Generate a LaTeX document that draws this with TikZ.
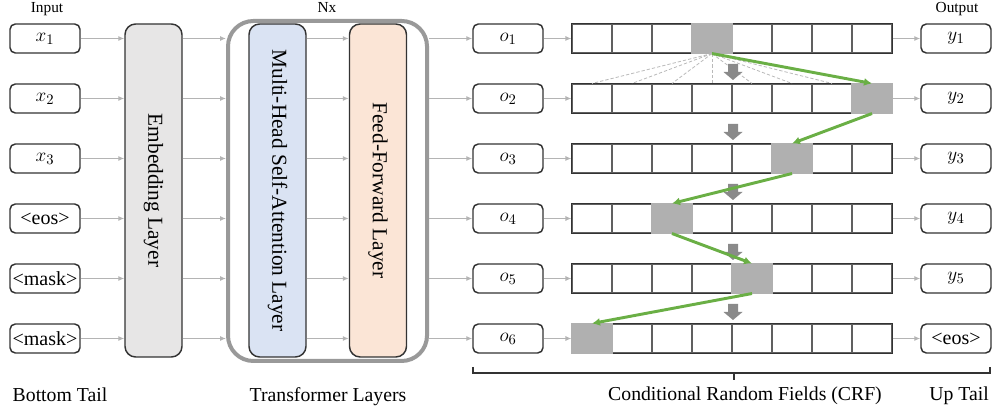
\documentclass[tikz,border=0pt]{standalone}
\usepackage{fontspec}
\setmainfont{Liberation Serif}
\usetikzlibrary{arrows.meta}
\definecolor{embfill}{HTML}{E7E6E6}
\definecolor{attfill}{HTML}{DAE3F3}
\definecolor{fffill}{HTML}{FBE5D6}
\definecolor{conn}{HTML}{B4B4B4}
\definecolor{nxline}{HTML}{999999}
\definecolor{hlcell}{HTML}{B0B0B0}
\definecolor{pathgreen}{HTML}{6AAF45}
\definecolor{blockarr}{HTML}{8A8A8A}
\definecolor{boxline}{HTML}{333333}
\begin{document}
\begin{tikzpicture}[x=0.75pt,y=-0.75pt,
  tok/.style={draw=boxline, line width=1.1pt, rounded corners=4pt, minimum width=52.5pt, minimum height=21.75pt, inner sep=0pt, font=\rmfamily\fontsize{15}{18}\selectfont},
  layerbox/.style={draw=boxline, line width=1.1pt, rounded corners=8pt, minimum width=42.75pt, minimum height=249.75pt, inner sep=0pt},
  layertext/.style={rotate=-90, font=\rmfamily\fontsize{16}{19}\selectfont},
  cell/.style={draw=gray!75!black, line width=0.8pt, minimum width=30pt, minimum height=21.75pt, inner sep=0pt},
  conarrow/.style={draw=conn, line width=1pt, -{Latex[length=4.5pt,width=3.8pt]}},
  greenarrow/.style={draw=pathgreen, line width=2.2pt, -{Latex[length=6pt,width=6pt]}},
  fan/.style={draw=gray!55, line width=0.6pt, dash pattern=on 2.5pt off 1.5pt},
  toplabel/.style={font=\rmfamily\fontsize{11.5}{14}\selectfont, anchor=base},
  botlabel/.style={font=\rmfamily\fontsize{14.8}{18}\selectfont, anchor=base}
]
\useasboundingbox (0,0) rectangle (1000,416);

% layers
\node[layerbox, fill=embfill] (emb) at (153.5,190.5) {};
\node[layertext] at (emb.center) {Embedding Layer};
\node[draw=nxline, line width=3pt, rounded corners=19pt, minimum width=149.25pt, minimum height=255pt, inner sep=0pt] (nx) at (327.5,191) {};
\node[layerbox, fill=attfill] (att) at (277.5,190.5) {};
\node[layertext] at (att.center) {Multi-Head Self-Attention Layer};
\node[layerbox, fill=fffill] (ff) at (378,190.5) {};
\node[layertext] at (ff.center) {Feed-Forward Layer};

% labels
\node[toplabel] (lin) at (47,13) {Input};
\node[toplabel] (lnx) at (327,13) {Nx};
\node[toplabel] (lout) at (957,13) {Output};
\node[botlabel] (lbt) at (60,402) {Bottom Tail};
\node[botlabel] (ltl) at (328,402) {Transformer Layers};
\node[botlabel] (lcrf) at (745,401) {Conditional Random Fields (CRF)};
\node[botlabel] (lup) at (959,401) {Up Tail};

% tokens and rows
\foreach \r/\inp/\outp in {1/$x_1$/$y_1$, 2/$x_2$/$y_2$, 3/$x_3$/$y_3$, 4/<eos>/$y_4$, 5/<mask>/$y_5$, 6/<mask>/<eos>}{
  \pgfmathsetmacro{\yy}{38.5+60*(\r-1)}
  \node[tok] (in\r) at (45,\yy) {\inp};
  \node[tok] (o\r) at (508,\yy) {$o_{\r}$};
  \node[tok] (out\r) at (956,\yy) {\outp};
  \foreach \c in {1,...,8}{
    \pgfmathsetmacro{\xx}{552+40*\c}
    \node[cell] (c-\r-\c) at (\xx,\yy) {};
  }
  \draw[draw=boxline, line width=1.1pt] (c-\r-1.north west) rectangle (c-\r-8.south east);
  \draw[conarrow] (in\r.east) -- (in\r.east -| emb.west);
  \draw[conarrow] (emb.east |- in\r.east) -- (nx.west |- in\r.east);
  \draw[conarrow] (att.east |- in\r.east) -- (ff.west |- in\r.east);
  \draw[conarrow] (nx.east |- o\r.west) -- (o\r.west);
  \draw[conarrow] (o\r.east) -- (c-\r-1.west);
  \draw[conarrow] (c-\r-8.east) -- (out\r.west);
}

% highlighted cells
\foreach \r/\c in {1/4, 2/8, 3/6, 4/3, 5/5, 6/1}{
  \fill[hlcell] ([xshift=-0.2pt,yshift=0.6pt]c-\r-\c.north west) rectangle ([xshift=0.2pt,yshift=-0.6pt]c-\r-\c.south east);
}

% fan of dashed lines
\foreach \c in {1,...,8}{
  \draw[fan] (c-1-4.south) -- (c-2-\c.north);
}

% block arrows between rows
\foreach \r in {1,...,5}{
  \pgfmathsetmacro{\yt}{38.5+60*(\r-1)+25.5}
  \fill[blockarr] (728,\yt) -- ++(10,0) -- ++(0,8) -- ++(4.5,0) -- ++(-9.5,8) -- ++(-9.5,-8) -- ++(4.5,0) -- cycle;
}

% green path
\draw[greenarrow] (c-1-4.south) -- (c-2-8.north);
\draw[greenarrow] (c-2-8.south) -- (c-3-6.north);
\draw[greenarrow] (c-3-6.south) -- (c-4-3.north);
\draw[greenarrow] (c-4-3.south) -- (c-5-5.north);
\draw[greenarrow] (c-5-5.south) -- (c-6-1.north);

% bracket
\coordinate (bl) at (473,367);
\coordinate (br) at (990,367);
\coordinate (bm) at (734,373);
\draw[draw=boxline, line width=0.8pt] (bl) -- ++(0,6) -- (br |- bm) -- (br);
\draw[draw=boxline, line width=0.8pt] (bm) -- ++(0,7);
\end{tikzpicture}
\end{document}
